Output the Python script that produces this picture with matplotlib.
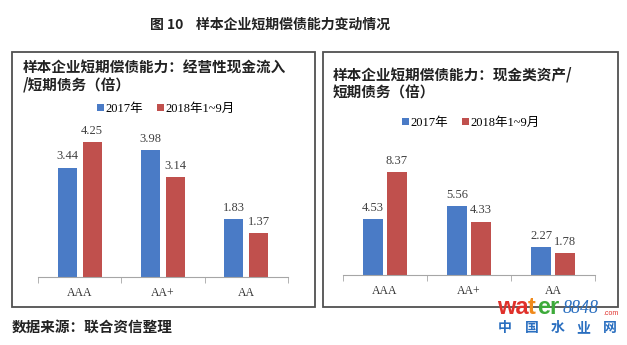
import matplotlib
matplotlib.use('Agg')
import matplotlib.pyplot as plt
from matplotlib.patches import Rectangle
import numpy as np

plt.rcParams['font.family'] = ['Noto Sans CJK SC', 'DejaVu Sans']

categories = ['AAA', 'AA+', 'AA']
series = ['2017年', '2018年1~9月']
left_2017 = [3.44, 3.98, 1.83]
left_2018 = [4.25, 3.14, 1.37]
right_2017 = [4.53, 5.56, 2.27]
right_2018 = [8.37, 4.33, 1.78]

BLUE = '#4A7BC6'
RED = '#C0504D'
SERIF = ['Liberation Serif', 'Noto Sans CJK SC']

W, H = 627, 345
fig = plt.figure(figsize=(W / 100, H / 100), dpi=100)


def fx(x):
    return x / W


def fy(y):
    return 1 - y / H


def panel(x0, x1, ytop, ybot, ymax, v1, v2, off, width):
    ax = fig.add_axes([fx(x0), fy(ybot), fx(x1 - x0), (ybot - ytop) / H])
    x = np.arange(len(categories))
    b1 = ax.bar(x - off, v1, width, color=BLUE, label=series[0])
    b2 = ax.bar(x + off, v2, width, color=RED, label=series[1])
    for bars in (b1, b2):
        for r in bars:
            ax.annotate(f'{r.get_height():.2f}', (r.get_x() + r.get_width() / 2, r.get_height()),
                        xytext=(0, 8), textcoords='offset points', ha='center', va='center',
                        fontsize=9, color='#404040', family=SERIF)
    ax.set_xlim(-0.5, 2.5)
    ax.set_ylim(0, ymax)
    for s in ('left', 'right', 'top'):
        ax.spines[s].set_visible(False)
    ax.spines['bottom'].set_color('#A6A6A6')
    ax.set_yticks([])
    ax.set_xticks(x)
    ax.set_xticklabels(categories, family=SERIF, fontsize=8.5, color='#333333')
    ax.tick_params(axis='x', length=0, pad=7)
    ax.set_xticks([-0.5, 0.5, 1.5, 2.5], minor=True)
    ax.tick_params(axis='x', which='minor', length=4, color='#A6A6A6')
    return ax


# left panel: 31.8 px per unit, right panel: 12.35 px per unit
axl = panel(38, 288, 277 - 5 * 31.8, 277, 5, left_2017, left_2018, 0.15, 0.23)
axr = panel(343, 595, 275 - 10 * 12.35, 275, 10, right_2017, right_2018, 0.14, 0.235)

for ax, cx, cy in ((axl, 166, 109), (axr, 471, 123)):
    ax.legend(loc='center', bbox_to_anchor=(fx(cx), fy(cy)), bbox_transform=fig.transFigure,
              ncol=2, frameon=False, handlelength=0.55, handleheight=0.55,
              handletextpad=0.15, columnspacing=1.1,
              prop={'family': SERIF, 'size': 9})

# panel frames
for x0, x1 in ((12, 315), (323, 618)):
    fig.patches.append(Rectangle((fx(x0), fy(307)), fx(x1 - x0), (307 - 52) / H,
                                 transform=fig.transFigure, fill=False,
                                 edgecolor='#505050', lw=1.3))

# titles
fig.text(fx(150), fy(25), '图 10    样本企业短期偿债能力变动情况', fontsize=10,
         fontweight='bold', color='#222222', ha='left', va='center')
fig.text(fx(23), fy(68), '样本企业短期偿债能力：经营性现金流入', fontsize=10.5,
         fontweight='bold', color='#222222', ha='left', va='center')
fig.text(fx(23), fy(84), '/短期债务（倍）', fontsize=10.5,
         fontweight='bold', color='#222222', ha='left', va='center')
fig.text(fx(333), fy(75), '样本企业短期偿债能力：现金类资产/', fontsize=10.5,
         fontweight='bold', color='#222222', ha='left', va='center')
fig.text(fx(333), fy(93), '短期债务（倍）', fontsize=10.5,
         fontweight='bold', color='#222222', ha='left', va='center')

fig.text(fx(12), fy(327), '数据来源：联合资信整理', fontsize=10.5,
         fontweight='bold', color='#222222', ha='left', va='center')

# watermark
wm = dict(fontsize=17, fontweight='bold', family='Liberation Sans', ha='left', va='baseline')
fig.text(fx(497), fy(314), 'wa', color='#E0302A', **wm)
fig.text(fx(528), fy(314), 't', color='#F08A1C', **wm)
fig.text(fx(537), fy(314), 'er', color='#3DAA3A', **wm)
fig.text(fx(563), fy(313), '8848', fontsize=13, style='italic', color='#2A6FC0',
         family='Liberation Serif', ha='left', va='baseline')
fig.text(fx(603), fy(315), '.com', fontsize=5, color='#E0302A',
         family='Liberation Sans', ha='left', va='baseline')
for ch, cx in zip('中国水业网', (505, 532, 558, 583, 610)):
    fig.text(fx(cx), fy(328), ch, fontsize=10, fontweight='bold',
             color='#2A6FC0', ha='center', va='center')

fig.savefig('out.png', dpi=100, facecolor='white')
